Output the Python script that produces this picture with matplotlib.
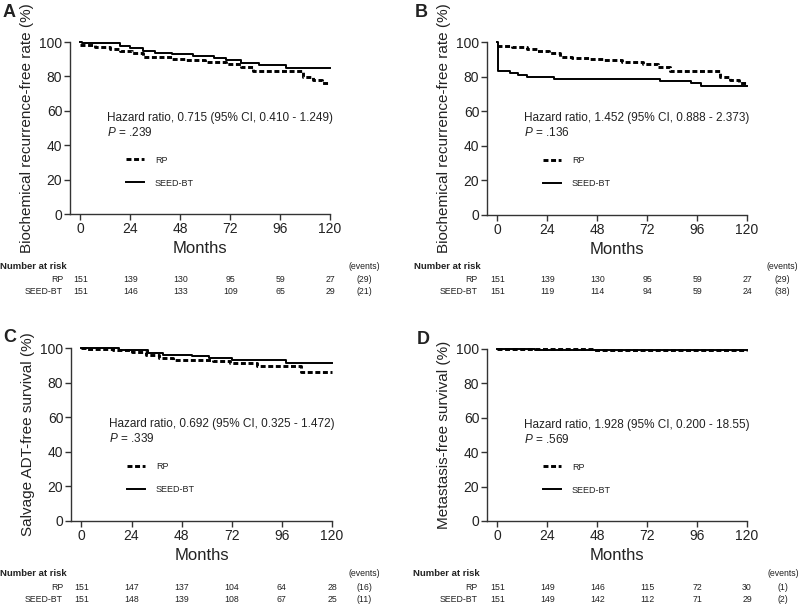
import matplotlib
matplotlib.use("Agg")
import matplotlib.pyplot as plt
from matplotlib.transforms import blended_transform_factory

plt.rcParams["font.family"] = ["Liberation Sans", "DejaVu Sans"]
plt.rcParams["mathtext.fontset"] = "custom"
plt.rcParams["mathtext.rm"] = "Liberation Sans"
plt.rcParams["mathtext.it"] = "Liberation Sans:italic"

W, H = 800, 607

# --- data ---
risk_times = [0, 24, 48, 72, 96, 120]

a_rp_t = [0, 7, 14, 19, 25, 30, 36, 44, 51, 60, 70, 77, 83, 107, 112, 116, 120]
a_rp_s = [98, 97, 96, 95, 93.5, 91.5, 91, 90, 89.5, 88.5, 87.2, 85.7, 83, 79.5, 78, 76, 76]
a_bt_t = [0, 1, 12, 19, 24, 30, 36, 44, 54, 64, 70, 77, 86, 99, 120]
a_bt_s = [100, 99.6, 99.2, 97.7, 96.3, 95, 93.8, 92.8, 91.9, 90.5, 89.5, 87.6, 86.4, 84.7, 84.7]
a_risk_rp = [151, 139, 130, 95, 59, 27]
a_risk_bt = [151, 146, 133, 109, 65, 29]
a_events = ["(29)", "(21)"]

b_rp_t = a_rp_t
b_rp_s = [97.5, 97, 96, 95, 93.5, 91.5, 91, 90, 89.5, 88.5, 87.2, 85.7, 83, 79.5, 78, 76.5, 76.5]
b_bt_t = [0, 0.3, 6, 10, 14, 27, 78, 93, 98, 120]
b_bt_s = [100, 83, 82, 81, 79.6, 78.7, 77.3, 76.2, 74.8, 74.8]
b_risk_rp = [151, 139, 130, 95, 59, 27]
b_risk_bt = [151, 119, 114, 94, 59, 24]
b_events = ["(29)", "(38)"]

c_rp_t = [0, 2, 15, 24, 31, 37, 44, 63, 71, 84, 105, 120]
c_rp_s = [100, 99.4, 98.6, 97.7, 96.1, 94.2, 93.2, 92.3, 91.3, 89.8, 86, 86]
c_bt_t = [0, 18, 24, 32, 39, 53, 61, 72, 98, 120]
c_bt_s = [100, 99, 98.6, 97.1, 96.1, 95.2, 94.2, 92.9, 91.2, 91.2]
c_risk_rp = [151, 147, 137, 104, 64, 28]
c_risk_bt = [151, 148, 139, 108, 67, 25]
c_events = ["(16)", "(11)"]

d_rp_t = [0, 46, 120]
d_rp_s = [100, 99.3, 99.3]
d_bt_t = [0, 18, 120]
d_bt_s = [100, 99.3, 99.3]
d_risk_rp = [151, 149, 146, 115, 72, 30]
d_risk_bt = [151, 149, 142, 112, 71, 29]
d_events = ["(1)", "(2)"]

panels = [
    dict(letter="A", rect=(70, 42, 260, 172), ylabel="Biochemical recurrence-free rate (%)",
         rp=(a_rp_t, a_rp_s), bt=(a_bt_t, a_bt_s), risk=(a_risk_rp, a_risk_bt), events=a_events,
         hr="Hazard ratio, 0.715 (95% CI, 0.410 - 1.249)", p="$P$ = .239",
         letter_xy=(3, 4), rows=(266, 279, 291), nar_x=0, lab_x=63, ev_x=364),
    dict(letter="B", rect=(487, 42, 260, 173), ylabel="Biochemical recurrence-free rate (%)",
         rp=(b_rp_t, b_rp_s), bt=(b_bt_t, b_bt_s), risk=(b_risk_rp, b_risk_bt), events=b_events,
         hr="Hazard ratio, 1.452 (95% CI, 0.888 - 2.373)", p="$P$ = .136",
         letter_xy=(415, 4), rows=(266, 279, 291), nar_x=414, lab_x=478, ev_x=782),
    dict(letter="C", rect=(71, 348, 261, 173), ylabel="Salvage ADT-free survival (%)",
         rp=(c_rp_t, c_rp_s), bt=(c_bt_t, c_bt_s), risk=(c_risk_rp, c_risk_bt), events=c_events,
         hr="Hazard ratio, 0.692 (95% CI, 0.325 - 1.472)", p="$P$ = .339",
         letter_xy=(3, 329), rows=(574, 587, 599), nar_x=0, lab_x=63, ev_x=364),
    dict(letter="D", rect=(487, 349, 260, 172), ylabel="Metastasis-free survival (%)",
         rp=(d_rp_t, d_rp_s), bt=(d_bt_t, d_bt_s), risk=(d_risk_rp, d_risk_bt), events=d_events,
         hr="Hazard ratio, 1.928 (95% CI, 0.200 - 18.55)", p="$P$ = .569",
         letter_xy=(417, 331), rows=(574, 587, 599), nar_x=413, lab_x=478, ev_x=783),
]

fig = plt.figure(figsize=(W / 100, H / 100), dpi=100)
txt = "#222222"

for p in panels:
    x0, y0, w, h = p["rect"]
    ax = fig.add_axes([x0 / W, 1 - (y0 + h) / H, w / W, h / H])
    ax.step(*p["rp"], where="post", color="black", lw=2.1, linestyle=(0, (1.7, 0.9)),
            label="RP", clip_on=False)
    ax.step(*p["bt"], where="post", color="black", lw=1.4, label="SEED-BT", clip_on=False)
    ax.set_xlim(-5, 120)
    ax.set_ylim(0, 100)
    ax.set_xticks(risk_times)
    ax.set_yticks([0, 20, 40, 60, 80, 100])
    for s in ("top", "right"):
        ax.spines[s].set_visible(False)
    for s in ("left", "bottom"):
        ax.spines[s].set_color("#333333")
        ax.spines[s].set_linewidth(1.0)
    ax.tick_params(direction="out", length=4, width=1, colors="#333333",
                   labelsize=10, labelcolor=txt, pad=1.5)
    ax.set_xlabel("Months", fontsize=12, color=txt, labelpad=4)
    ax.set_ylabel(p["ylabel"], fontsize=11, color=txt, labelpad=4)

    ax.text(13, 56, p["hr"], fontsize=8.5, color=txt, va="center")
    ax.text(13, 47.5, p["p"], fontsize=8.5, color=txt, va="center")
    ax.legend(loc="upper left", bbox_to_anchor=(0.215, 0.34), frameon=False,
              fontsize=6.5, handlelength=2.0, handletextpad=1.2, labelspacing=1.55,
              borderaxespad=0, borderpad=0, labelcolor=txt)

    lx, ly = p["letter_xy"]
    fig.text(lx / W, 1 - ly / H, p["letter"], fontsize=13, fontweight="bold",
             ha="left", va="top", color=txt)

    # number at risk table
    r0, r1, r2 = p["rows"]
    fig.text(p["nar_x"] / W, 1 - r0 / H, "Number at risk", fontsize=6.8,
             fontweight="bold", ha="left", va="center", color=txt)
    fig.text(p["ev_x"] / W, 1 - r0 / H, "(events)", fontsize=6.3, ha="center",
             va="center", color=txt)
    tr = blended_transform_factory(ax.transData, fig.transFigure)
    for name, vals, ev, ry in (("RP", p["risk"][0], p["events"][0], r1),
                               ("SEED-BT", p["risk"][1], p["events"][1], r2)):
        fig.text(p["lab_x"] / W, 1 - ry / H, name, fontsize=6.3, ha="right",
                 va="center", color=txt)
        for t, v in zip(risk_times, vals):
            ax.text(t, 1 - ry / H, str(v), transform=tr, fontsize=6.3,
                    ha="center", va="center", color=txt)
        fig.text(p["ev_x"] / W, 1 - ry / H, ev, fontsize=6.3, ha="center",
                 va="center", color=txt)

fig.savefig("out.png", dpi=100, facecolor="white")
